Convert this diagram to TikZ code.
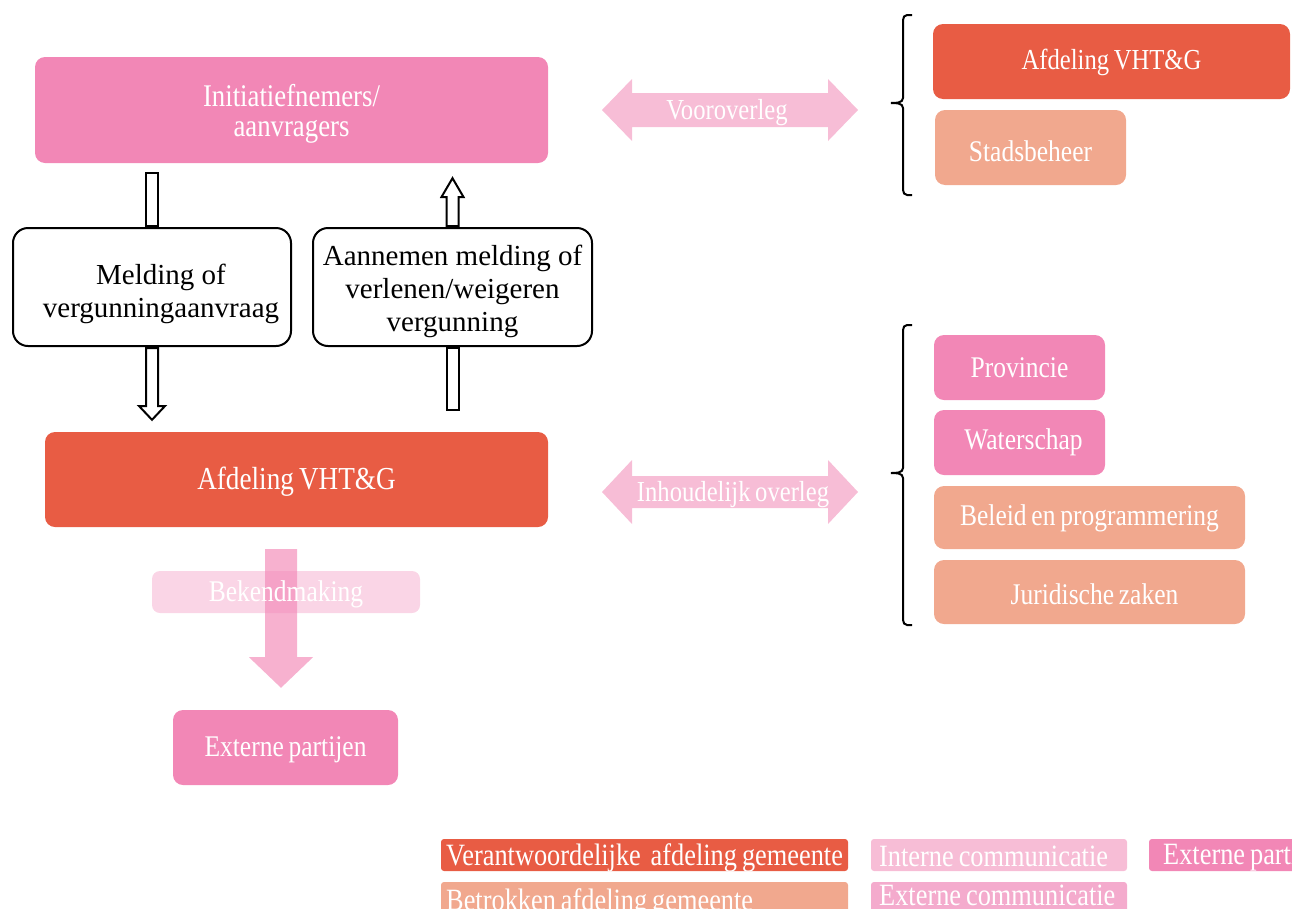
\documentclass[tikz,border=0pt]{standalone}
\usepackage{fontspec}
\setmainfont{Liberation Serif}
\newfontfamily\wfont[FakeStretch=0.85, WordSpace=0.75]{Liberation Serif}
\usetikzlibrary{calc}
\definecolor{cRed}{HTML}{E85C44}
\definecolor{cPink}{HTML}{F287B6}
\definecolor{cLight}{HTML}{F7BDD6}
\definecolor{cSalmon}{HTML}{F1A88E}
\definecolor{cExt}{HTML}{F4ABCD}
\newcommand\mv[2]{\raisebox{#1}[\height][\depth]{#2}}
\tikzset{
  box/.style={rectangle, rounded corners=10, text=white, inner sep=0, align=center,
    font=\wfont\fontsize{30}{30}\selectfont},
  wbox/.style={rectangle, rounded corners=15, draw=black, line width=2, fill=white,
    inner sep=0, align=center, font=\fontsize{29}{33}\selectfont},
  hollow/.style={draw=black, fill=white, line width=2, line join=miter},
  lbl/.style={text=white, inner sep=0, font=\wfont\fontsize{29}{29}\selectfont},
  brc/.style={draw=black, line width=2},
  leg/.style={rectangle, rounded corners=3, inner sep=0},
  legt/.style={text=white, inner sep=0, anchor=base west, font=\wfont\fontsize{31}{31}\selectfont}
}
\begin{document}
\begin{tikzpicture}[x=1pt,y=-1pt]
\useasboundingbox (0,0) rectangle (1292,908);
\clip (0,0) rectangle (1292,908);

% main column
\node[box, fill=cPink, minimum width=513, minimum height=106,
  font=\wfont\fontsize{31.5}{30}\selectfont] (init) at (291.5,110)
  {\mv{-5pt}{\begin{tabular}{@{}c@{}}Initiatiefnemers/\\aanvragers\end{tabular}}};
\node[wbox, minimum width=278, minimum height=118] (mel) at (152,287)
  {\mv{-7pt}{\hspace{18pt}\begin{tabular}{@{}c@{}}Melding of\\vergunningaanvraag\end{tabular}}};
\node[wbox, minimum width=279, minimum height=118] (aan) at (452.5,287)
  {\mv{-5pt}{\begin{tabular}{@{}c@{}}Aannemen melding of\\verlenen/weigeren\\vergunning\end{tabular}}};
\node[box, fill=cRed, minimum width=503, minimum height=95,
  font=\wfont\fontsize{32}{32}\selectfont] (vht) at (296.5,479.5) {\mv{-2pt}{Afdeling VHT\&G}};
\node[box, fill=cPink, minimum width=225, minimum height=75] (ext) at (285.5,747.5) {\mv{-2pt}{Externe partijen}};

% hollow arrows
\draw[hollow] ($(mel.north |- init.south)+(-6,10)$) rectangle ($(mel.north)+(6,-1)$);
\draw[hollow] ($(mel.south)+(-6,1)$) -- ($(mel.south)+(-6,59)$) -- ++(-7,0)
  -- ($(mel.south |- vht.north)+(0,-12)$) -- ($(mel.south)+(13,59)$) -- ++(-7,0)
  -- ($(mel.south)+(6,1)$) -- cycle;
\draw[hollow] ($(aan.north)+(-6,-1)$) -- ($(aan.north)+(-6,-30)$) -- ++(-5,0)
  -- ($(aan.north |- init.south)+(0,15)$) -- ($(aan.north)+(11,-30)$) -- ++(-5,0)
  -- ($(aan.north)+(6,-1)$) -- cycle;
\draw[hollow] ($(aan.south)+(-6,1)$) rectangle ($(aan.south |- vht.north)+(6,-22)$);

% Bekendmaking
\node[rectangle, rounded corners=8, fill=cPink, fill opacity=0.35, minimum width=268,
  minimum height=42, inner sep=0] (bekbox) at (286,592) {};
\coordinate (bt) at ($(vht.south)+(-15.5,22)$);
\fill[cPink, opacity=0.65] ($(bt)+(-16,0)$) -- ($(bt)+(-16,108)$) -- ++(-16,0)
  -- ($(bt |- ext.north)+(0,-22)$) -- ($(bt)+(32,108)$) -- ++(-16,0)
  -- ($(bt)+(16,0)$) -- cycle;
\node[lbl, font=\wfont\fontsize{30}{30}\selectfont] (bek) at ($(bekbox)+(0,2)$) {Bekendmaking};

% double arrows
\fill[cLight] (602,110) -- (632,79) -- (632,93) -- (828,93) -- (828,79) -- (858,110)
  -- (828,141) -- (828,127) -- (632,127) -- (632,141) -- cycle;
\node[lbl] (voor) at (727,113) {Vooroverleg};
\fill[cLight] (602,492) -- (632,460) -- (632,476) -- (828,476) -- (828,460) -- (858,492)
  -- (828,524) -- (828,508) -- (632,508) -- (632,524) -- cycle;
\node[lbl] (inh) at (733,495) {Inhoudelijk overleg};

% braces
\draw[brc] (912,15) -- (907,15) to[out=180,in=90] (903,20) -- (903,98)
  to[out=-90,in=0] (891,103) to[out=0,in=90] (903,108) -- (903,190)
  to[out=-90,in=180] (907,195) -- (912,195);
\draw[brc] (912,325) -- (907,325) to[out=180,in=90] (903,330) -- (903,468)
  to[out=-90,in=0] (891,473) to[out=0,in=90] (903,478) -- (903,620)
  to[out=-90,in=180] (907,625) -- (912,625);

% right boxes
\node[box, fill=cRed, minimum width=357, minimum height=75,
  font=\wfont\fontsize{29}{29}\selectfont] (afd2) at (1111.5,61.5) {\mv{-1pt}{Afdeling VHT\&G}};
\node[box, fill=cSalmon, minimum width=191, minimum height=75] (stad) at (1030.5,147.5) {\mv{-4pt}{Stadsbeheer}};
\node[box, fill=cPink, minimum width=171, minimum height=65] (prov) at (1019.5,367.5) {Provincie};
\node[box, fill=cPink, minimum width=171, minimum height=65] (wat) at (1019.5,442.5) {\hspace{8pt}Waterschap};
\node[box, fill=cSalmon, minimum width=311, minimum height=63] (bel) at (1089.5,517.5) {\mv{-1pt}{Beleid en programmering}};
\node[box, fill=cSalmon, minimum width=311, minimum height=64] (jur) at (1089.5,592) {\mv{-2pt}{\hspace{10pt}Juridische zaken}};

% legend
\node[leg, fill=cRed, minimum width=407, minimum height=32] (l1) at (644.5,855) {};
\node[legt] at (446,865) {Verantwoordelijke\ \ afdeling gemeente};
\node[leg, fill=cLight, minimum width=256, minimum height=32] (l2) at (999,855) {};
\node[legt] at (879,866) {Interne communicatie};
\node[leg, fill=cPink, minimum width=260, minimum height=32] (l3) at (1279,855) {};
\node[legt] at (1163,864) {Externe partijen};
\node[leg, fill=cSalmon, minimum width=407, minimum height=40] (l4) at (644.5,902) {};
\node[legt] at (446,910) {Betrokken afdeling gemeente};
\node[leg, fill=cExt, minimum width=256, minimum height=40] (l5) at (999,902) {};
\node[legt] at (879,905) {Externe communicatie};
\end{tikzpicture}
\end{document}
